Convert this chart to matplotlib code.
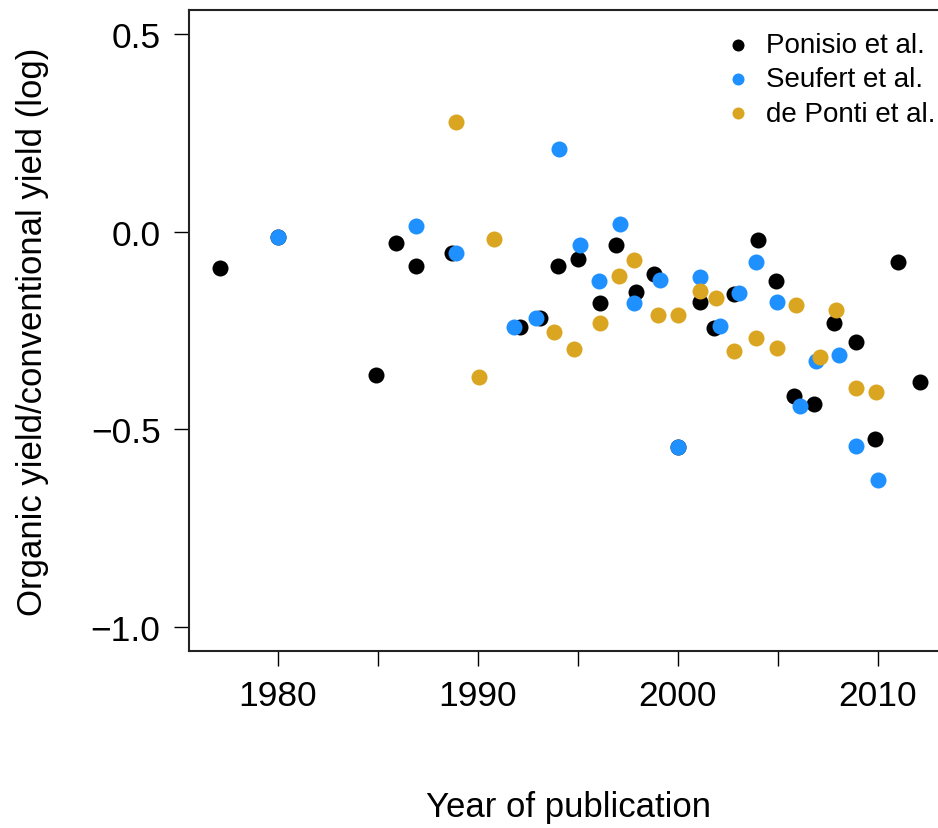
import matplotlib
matplotlib.use("Agg")
from matplotlib import pyplot as plt

plt.rcParams['font.family'] = ['Liberation Sans', 'DejaVu Sans']

# Ponisio et al.
ponisio_year = [1977.1, 1980.0, 1984.9, 1985.9, 1986.9, 1988.7, 1992.1, 1993.1,
                1994.0, 1995.0, 1996.1, 1996.9, 1997.9, 1998.8, 2000.0, 2001.1,
                2001.8, 2002.8, 2004.0, 2004.9, 2005.8, 2006.8, 2007.8, 2008.9,
                2009.85, 2011.0, 2012.1]
ponisio_ratio = [-0.093, -0.013, -0.363, -0.030, -0.086, -0.054, -0.242, -0.219,
                 -0.086, -0.069, -0.181, -0.035, -0.153, -0.107, -0.545, -0.177,
                 -0.243, -0.159, -0.021, -0.126, -0.416, -0.436, -0.230, -0.278,
                 -0.524, -0.076, -0.380]

# Seufert et al.
seufert_year = [1980.0, 1986.9, 1988.9, 1991.8, 1992.9, 1994.07, 1995.1, 1996.05,
                1997.1, 1997.8, 1999.1, 2000.0, 2001.1, 2002.1, 2003.07, 2003.9,
                2004.97, 2006.1, 2006.9, 2008.05, 2008.9, 2010.0]
seufert_ratio = [-0.013, 0.015, -0.054, -0.242, -0.219, 0.209, -0.033, -0.126,
                 0.018, -0.181, -0.123, -0.545, -0.114, -0.239, -0.154, -0.076,
                 -0.179, -0.442, -0.327, -0.312, -0.542, -0.628]

# de Ponti et al.
deponti_year = [1988.9, 1990.07, 1990.8, 1993.8, 1994.8, 1996.1, 1997.05, 1997.8,
                1999.0, 2000.0, 2001.1, 2001.9, 2002.8, 2003.9, 2004.97, 2005.9,
                2007.1, 2007.9, 2008.9, 2009.9]
deponti_ratio = [0.277, -0.368, -0.018, -0.254, -0.297, -0.232, -0.111, -0.071,
                 -0.212, -0.212, -0.150, -0.167, -0.302, -0.270, -0.295, -0.186,
                 -0.316, -0.197, -0.395, -0.405]

x_ticks = [1980, 1985, 1990, 1995, 2000, 2005, 2010]
x_labels = ['1980', '', '1990', '', '2000', '', '2010']
y_ticks = [0.5, 0.0, -0.5, -1.0]

fig = plt.figure(figsize=(9.38, 8.29), dpi=100)
# the plotting region runs a little past the right edge of the figure
ax = fig.add_axes([189 / 938, 1 - 652 / 829, 758 / 938, 641 / 829])

ax.scatter(ponisio_year, ponisio_ratio, s=133, color='black', linewidths=0,
           label='Ponisio et al.', zorder=2)
ax.scatter(seufert_year, seufert_ratio, s=133, color='#1E90FF', linewidths=0,
           label='Seufert et al.', zorder=3)
ax.scatter(deponti_year, deponti_ratio, s=133, color='#DAA520', linewidths=0,
           label='de Ponti et al.', zorder=4)

ax.set_xlim(1975.55, 2013.45)
ax.set_ylim(-1.06, 0.56)
ax.set_xticks(x_ticks)
ax.set_xticklabels(x_labels)
ax.set_yticks(y_ticks)
ax.set_yticklabels(['0.5', '0.0', '\u22120.5', '\u22121.0'])

for s in ax.spines.values():
    s.set_linewidth(1.5)
    s.set_color('#222222')
ax.tick_params(axis='both', direction='out', length=10.5, width=1.0,
               labelsize=25.5, pad=10)

ax.set_xlabel('Year of publication', fontsize=25, labelpad=56)
ax.set_ylabel('Organic yield/conventional yield (log)', fontsize=25, labelpad=30)

ax.legend(loc='upper left', bbox_to_anchor=(724 / 938, 1 - 33 / 829),
          bbox_transform=fig.transFigure, frameon=False, fontsize=20,
          markerscale=0.75, handlelength=1.0, handletextpad=0.5,
          labelspacing=0.3, borderpad=0, borderaxespad=0)

fig.savefig('out.png', dpi=100)
